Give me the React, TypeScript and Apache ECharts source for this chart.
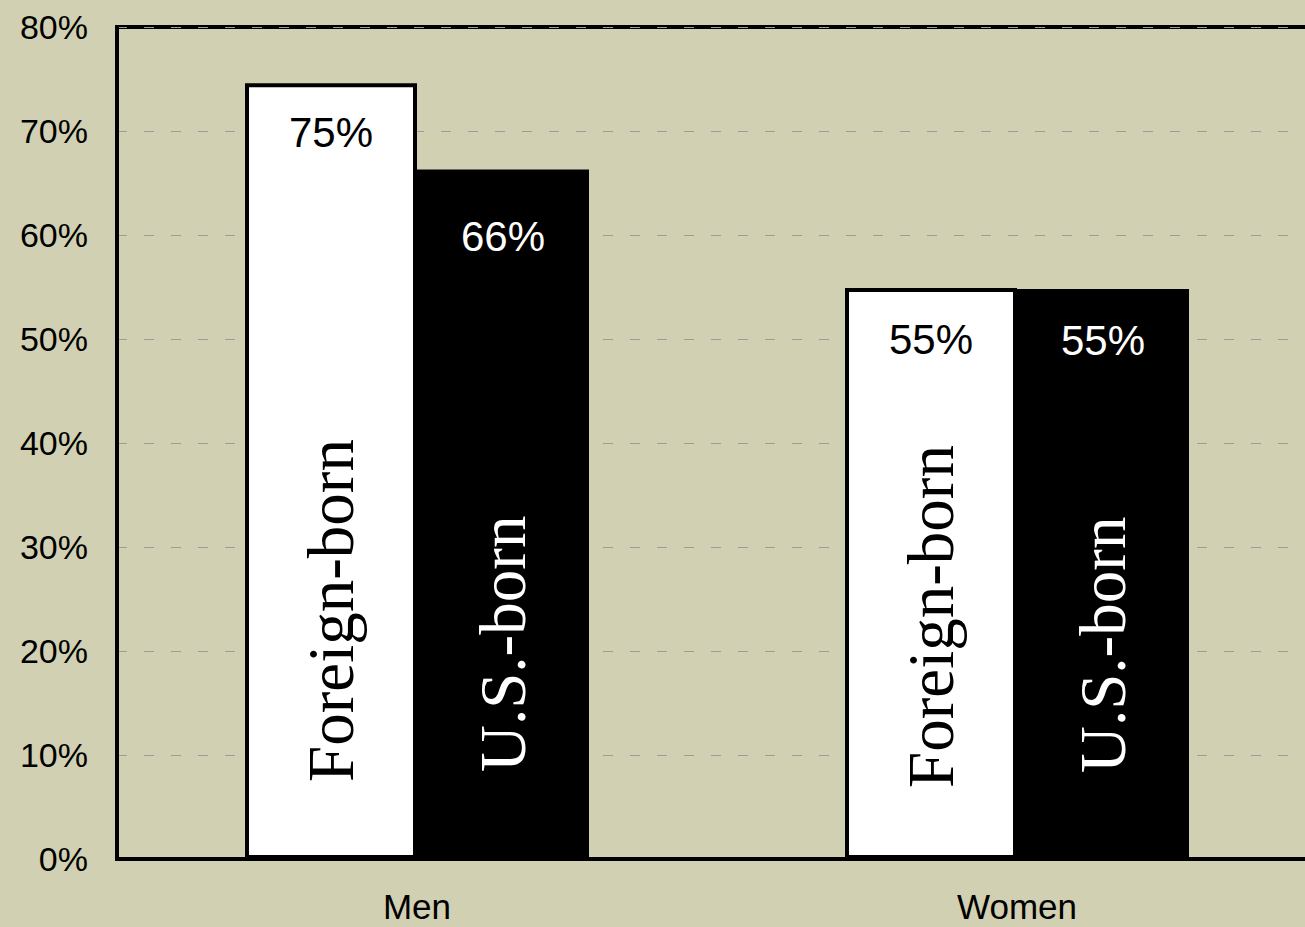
import React, { useEffect, useRef } from "react";
import * as echarts from "echarts";

const categories = ["Men", "Women"];
const foreignBorn = [74.6, 54.9];
const usBorn = [66.3, 54.8];
const yTicks = [0, 10, 20, 30, 40, 50, 60, 70, 80];

const foreignValueDist = [28, 30];
const usValueDist = [46, 30];
const foreignNameDist = [77, 71];
const usNameDist = [87, 86];

const SANS = "'Liberation Sans', Arial, sans-serif";
const SERIF = "'Liberation Serif', 'Times New Roman', serif";

export default function App() {
  const ref = useRef<HTMLDivElement>(null);
  useEffect(() => {
    if (!ref.current) return;
    const chart = echarts.init(ref.current, undefined, { renderer: "svg" });
    const nameLabel = (text: string) => ({
      show: true,
      position: "insideBottom",
      rotate: 90,
      align: "left",
      verticalAlign: "middle",
      formatter: text,
      fontFamily: SERIF,
      fontSize: 65,
      color: "#000",
    });
    chart.setOption({
      animation: false,
      backgroundColor: "#D2D0B2",
      grid: {
        left: 117,
        top: 27,
        width: 1200,
        bottom: 68,
        outerBoundsMode: "none",
        containLabel: false,
        show: true,
        borderColor: "#000",
        borderWidth: 4,
        backgroundColor: "transparent",
      },
      xAxis: {
        type: "category",
        data: categories,
        axisTick: { show: false },
        axisLine: { lineStyle: { color: "#000", width: 4 } },
        axisLabel: { color: "#000", fontSize: 35, fontFamily: SANS, margin: 30 },
      },
      yAxis: {
        type: "value",
        min: yTicks[0],
        max: yTicks[yTicks.length - 1],
        interval: 10,
        axisLine: { show: true, lineStyle: { color: "#000", width: 4 } },
        axisTick: { show: false },
        axisLabel: {
          color: "#000",
          fontSize: 34,
          fontFamily: SANS,
          margin: 29,
          formatter: "{value}%",
        },
        splitLine: {
          show: true,
          lineStyle: { color: "#9c9c9c", width: 1, type: [10, 17] },
        },
      },
      series: [
        {
          name: "Foreign-born label",
          type: "bar",
          stack: "fb",
          barWidth: 172,
          barGap: 0,
          z: 5,
          silent: true,
          itemStyle: { color: "transparent", borderWidth: 0 },
          data: foreignNameDist.map((d) => ({ value: 0, label: { distance: d } })),
          label: nameLabel("Foreign-born"),
        },
        {
          name: "Foreign-born",
          type: "bar",
          stack: "fb",
          barWidth: 172,
          barGap: 0,
          z: 2,
          itemStyle: { color: "#fff", borderColor: "#000", borderWidth: 4 },
          data: foreignBorn.map((v, i) => ({
            value: v,
            label: { distance: foreignValueDist[i] },
          })),
          label: {
            show: true,
            position: "insideTop",
            color: "#000",
            fontSize: 42,
            fontFamily: SANS,
            formatter: (p: any) => Math.round(p.value) + "%",
          },
        },
        {
          name: "U.S.-born label",
          type: "bar",
          stack: "us",
          barWidth: 172,
          barGap: 0,
          z: 5,
          silent: true,
          itemStyle: { color: "transparent", borderWidth: 0 },
          data: usNameDist.map((d) => ({ value: 0, label: { distance: d } })),
          label: { ...nameLabel("U.S.-born"), color: "#fff" },
        },
        {
          name: "U.S.-born",
          type: "bar",
          stack: "us",
          barWidth: 172,
          barGap: 0,
          z: 2,
          itemStyle: { color: "#000", borderColor: "#000", borderWidth: 4 },
          data: usBorn.map((v, i) => ({
            value: v,
            label: { distance: usValueDist[i] },
          })),
          label: {
            show: true,
            position: "insideTop",
            color: "#fff",
            fontSize: 42,
            fontFamily: SANS,
            formatter: (p: any) => Math.round(p.value) + "%",
          },
        },
      ],
    });
    return () => chart.dispose();
  }, []);
  return (
    <div
      ref={ref}
      style={{ position: "fixed", left: 0, top: 0, width: 1305, height: 927 }}
    />
  );
}
